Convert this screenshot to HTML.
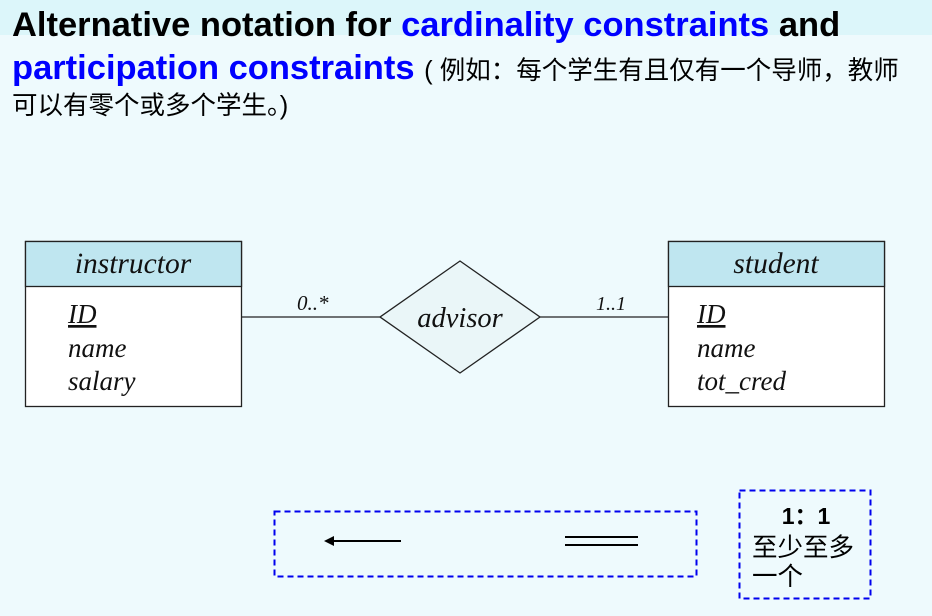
<!DOCTYPE html>
<html><head><meta charset="utf-8"><style>
body{margin:0;width:932px;height:616px;overflow:hidden;background:#eefafd;font-family:"Liberation Sans","Noto Sans CJK SC",sans-serif;position:relative}
.band{position:absolute;left:0;top:0;width:932px;height:35px;background:#dcf6fa}
.t{position:absolute;left:12px;font-weight:bold;font-size:34.5px;color:#000;white-space:nowrap;line-height:1}
.b{color:#0000ff}
.cn{font-size:25.5px;font-weight:normal}
</style></head><body>
<div class="band"></div>
<div class="t" style="top:8px">Alternative notation for <span class="b">cardinality constraints</span> and</div>
<div class="t" style="top:51px"><span class="b">participation constraints</span> <span class="cn">( 例如：每个学生有且仅有一个导师，教师</span></div>
<div class="t cn" style="top:94px">可以有零个或多个学生。)</div>
<svg width="932" height="616" style="position:absolute;left:0;top:0">
<g font-family="Liberation Serif,serif" font-style="italic" font-size="27" fill="#111">
<g>
<rect x="25.5" y="241.5" width="216" height="165" fill="#fff" stroke="#222" stroke-width="1.3"/>
<rect x="25.5" y="241.5" width="216" height="45" fill="#bfe6f0" stroke="#222" stroke-width="1.3"/>
<text x="133" y="273" text-anchor="middle" font-size="29.5">instructor</text>
<text x="68" y="323" text-decoration="underline">ID</text>
<text x="68" y="357">name</text>
<text x="68" y="390">salary</text>
</g>
<g>
<rect x="668.5" y="241.5" width="216" height="165" fill="#fff" stroke="#222" stroke-width="1.3"/>
<rect x="668.5" y="241.5" width="216" height="45" fill="#bfe6f0" stroke="#222" stroke-width="1.3"/>
<text x="776" y="273" text-anchor="middle" font-size="29.5">student</text>
<text x="697" y="323" text-decoration="underline">ID</text>
<text x="697" y="357">name</text>
<text x="697" y="390">tot_cred</text>
</g>
<line x1="241" y1="317" x2="380" y2="317" stroke="#222" stroke-width="1.3"/>
<line x1="540" y1="317" x2="668" y2="317" stroke="#222" stroke-width="1.3"/>
<polygon points="380,317 460,261 540,317 460,373" fill="#eaf6f8" stroke="#222" stroke-width="1.3"/>
<text x="460" y="327" text-anchor="middle" font-size="28.5">advisor</text>
<text x="297" y="310" font-size="21">0..*</text>
<text x="596" y="310" font-size="20">1..1</text>
</g>
<rect x="274.5" y="511.5" width="422" height="65" fill="none" stroke="#0000ee" stroke-width="2" stroke-dasharray="6,4"/>
<line x1="330" y1="541" x2="401" y2="541" stroke="#000" stroke-width="2"/>
<polygon points="324,541 334,536 334,546" fill="#000"/>
<line x1="565" y1="537" x2="638" y2="537" stroke="#000" stroke-width="2"/>
<line x1="565" y1="545" x2="638" y2="545" stroke="#000" stroke-width="2"/>
<rect x="739.5" y="490.5" width="131" height="108" fill="none" stroke="#0000ee" stroke-width="2" stroke-dasharray="6,4"/>
<text x="806" y="524" text-anchor="middle" font-family="Liberation Sans,Noto Sans CJK SC,sans-serif" font-weight="bold" font-size="23">1：1</text>
<text x="752" y="556" font-family="Liberation Sans,Noto Sans CJK SC,sans-serif" font-size="25.5">至少至多</text>
<text x="752" y="585" font-family="Liberation Sans,Noto Sans CJK SC,sans-serif" font-size="25.5">一个</text>
</svg>
</body></html>
